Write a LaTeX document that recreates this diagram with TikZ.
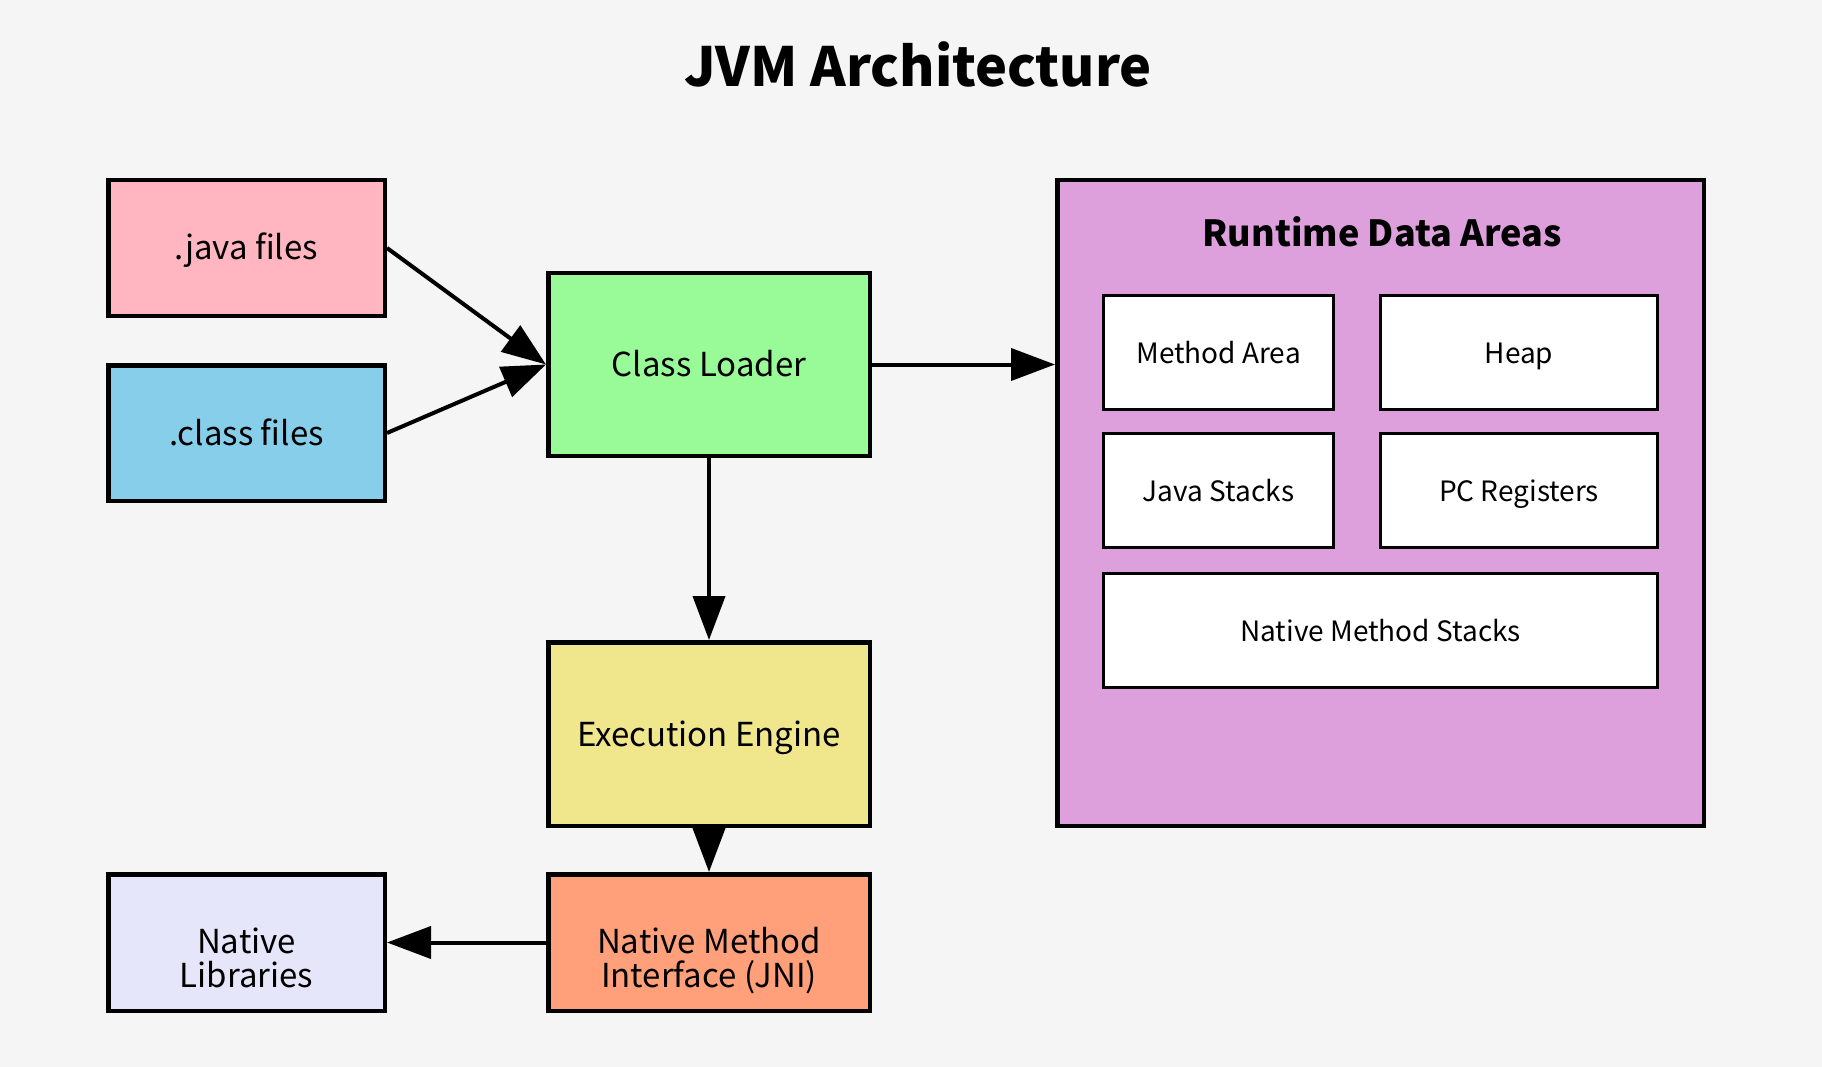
\documentclass[tikz,border=0pt]{standalone}
\usepackage{fontspec}
\setmainfont{Noto Sans CJK SC}
\usetikzlibrary{arrows.meta}
\definecolor{bgc}{HTML}{F5F5F5}
\definecolor{javac}{HTML}{FFB6C1}
\definecolor{classc}{HTML}{87CEEB}
\definecolor{loaderc}{HTML}{98FB98}
\definecolor{enginec}{HTML}{F0E68C}
\definecolor{jnic}{HTML}{FFA07A}
\definecolor{libc}{HTML}{E6E6FA}
\definecolor{rdac}{HTML}{DDA0DD}
\tikzset{
  box/.style={draw=black, line width=4.5pt, inner sep=0pt, align=center,
    font=\fontsize{33}{34}\selectfont, text height=24pt, text depth=0pt},
  twoline/.style={text height=89pt, text depth=0pt},
  inbox/.style={draw=black, line width=3pt, fill=white, inner sep=0pt, align=center,
    font=\fontsize{28}{28}\selectfont, text height=21pt, text depth=0pt},
  conn/.style={line width=4pt, -{Triangle[length=44pt,width=32pt]}},
}
\begin{document}
\begin{tikzpicture}[x=1pt,y=-1pt]
\fill[bgc] (0,0) rectangle (1822,1067);
\useasboundingbox (0,0) rectangle (1822,1067);
\node[font=\fontsize{54}{54}\bfseries\selectfont, anchor=base] (title) at (918,87) {JVM Architecture};

\node[box, fill=javac, minimum width=276.5pt, minimum height=135.5pt] (java) at (246.5,248) {.java files};
\node[box, fill=classc, minimum width=276.5pt, minimum height=135.5pt] (class) at (246.5,433) {.class files};
\node[box, fill=loaderc, minimum width=321.5pt, minimum height=182.5pt] (loader) at (709,364.5) {Class Loader};
\node[box, fill=enginec, minimum width=321.5pt, minimum height=183.5pt] (engine) at (709,734) {Execution Engine};
\node[box, twoline, fill=jnic, minimum width=321.5pt, minimum height=136.5pt] (jni) at (709,942.5) {Native Method\\Interface (JNI)};
\node[box, twoline, fill=libc, minimum width=276.5pt, minimum height=136.5pt] (lib) at (246.5,942.5) {Native\\Libraries};

\node[box, fill=rdac, minimum width=646.5pt, minimum height=645.5pt] (rda) at (1380.5,503) {};
\node[font=\fontsize{36}{36}\bfseries\selectfont, anchor=base] (rdatitle) at (1382,247) {Runtime Data Areas};

\node[inbox, minimum width=230pt, minimum height=114pt] (method) at (1218.5,352.5) {Method Area};
\node[inbox, minimum width=277pt, minimum height=114pt] (heap) at (1519,352.5) {Heap};
\node[inbox, minimum width=230pt, minimum height=114pt] (jstack) at (1218.5,490.5) {Java Stacks};
\node[inbox, minimum width=277pt, minimum height=114pt] (pc) at (1519,490.5) {PC Registers};
\node[inbox, minimum width=554pt, minimum height=114pt] (nms) at (1380.5,630.5) {Native Method Stacks};

\draw[conn] (java.east) -- (loader.west);
\draw[conn] (class.east) -- (loader.west);
\draw[conn] (loader.east) -- (loader.east -| rda.west);
\draw[conn] (loader.south) -- (engine.north);
\draw[conn] (engine.south) -- (jni.north);
\draw[conn] (jni.west) -- (lib.east);
\end{tikzpicture}
\end{document}
